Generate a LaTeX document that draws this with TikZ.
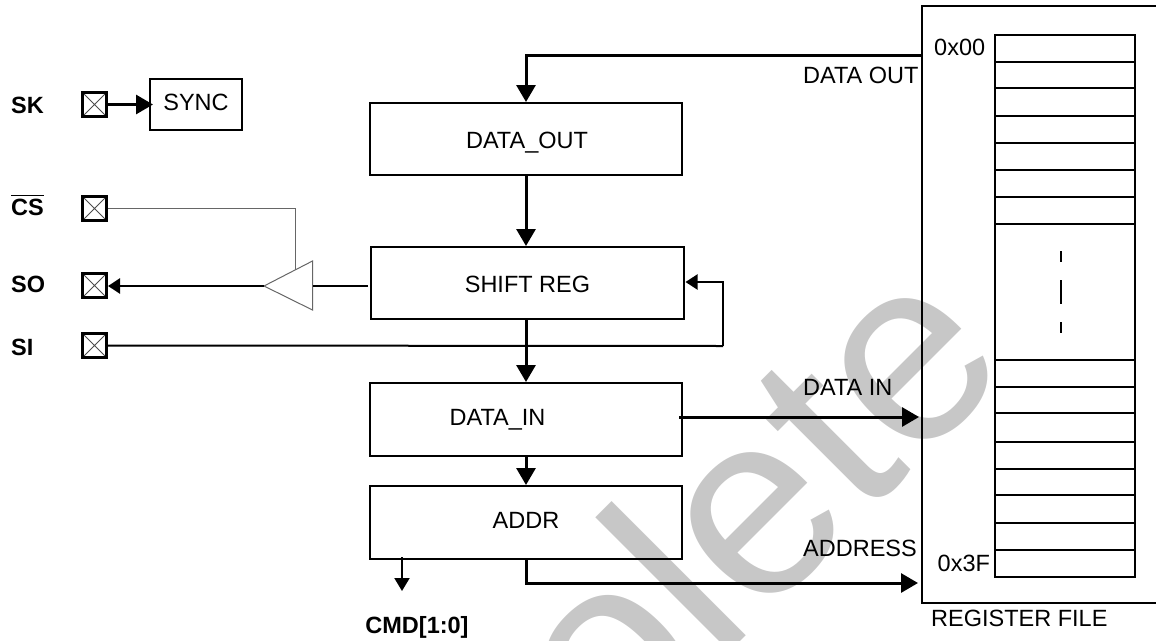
\documentclass[tikz,border=0pt]{standalone}
\usepackage{fontspec}
\setmainfont{Liberation Sans}
\usetikzlibrary{arrows.meta}
\tikzset{
  x=1pt,y=-1pt,
  every node/.style={font=\fontsize{23.5}{25}\selectfont,inner sep=0pt},
  block/.style={draw=black,line width=2pt,minimum width=#1,text height=16.8pt,text depth=0pt},
  block/.default=312pt,
  txt/.style={anchor=base west},
  sig/.style={font=\fontsize{23.5}{25}\bfseries\selectfont,anchor=base west},
  pad/.style={draw=black,line width=3pt,minimum width=24pt,minimum height=24pt,
    path picture={\draw[line width=.8pt,black!70] (path picture bounding box.north west)--(path picture bounding box.south east)
      (path picture bounding box.north east)--(path picture bounding box.south west);}},
  bus/.style={line width=3pt,line cap=butt},
  wire/.style={line width=2pt},
  thin wire/.style={line width=1pt,black!60},
  bigtip/.style={-{Triangle[length=17pt,width=19pt]}},
  midtip/.style={-{Triangle[length=12pt,width=15pt]}},
  regline/.style={line width=2pt},
}
\begin{document}
\begin{tikzpicture}
\useasboundingbox (0,0) rectangle (1156,640);
\clip (0,0) rectangle (1156,640);
% watermark
\node[anchor=base,rotate=45,text=black!22,font=\fontsize{262}{262}\selectfont] (wm) at (645,737) {Obsolete};

% pads
\node[pad] (padsk) at (94.5,104.5) {};
\node[pad] (padcs) at (94.5,208.5) {};
\node[pad] (padso) at (94.5,285.5) {};
\node[pad] (padsi) at (94.5,345.5) {};
\node[sig] (lsk) at (11,113) {SK};
\node[sig] (lcs) at (11,215.7) {\vbox{\hrule height 1.3pt\kern3.4pt\hbox{CS}}};
\node[sig] (lso) at (11,292.7) {SO};
\node[sig] (lsi) at (11,355) {SI};

% blocks
\node[block=92pt,minimum height=51pt] (sync) at (196,104.5) {\raisebox{2pt}{SYNC}};
\node[block,minimum height=72pt] (dout) at (526,139) {\raisebox{-1.5pt}{\hspace*{2pt}DATA\_OUT}};
\node[block=313pt,minimum height=72pt] (shift) at (527.5,283) {\raisebox{-1pt}{SHIFT REG}};
\node[block,minimum height=73pt] (din) at (526,419.5) {\raisebox{2pt}{DATA\_IN\hspace*{57pt}}};
\node[block,minimum height=73pt] (addr) at (526,522.5) {\raisebox{2pt}{ADDR}};

% register file
\node[draw=black,line width=2pt,minimum width=300pt,minimum height=597pt] (regfile) at (1072,304.5) {};
\node[draw=black,line width=2pt,minimum width=140pt,minimum height=542pt] (regs) at (1065,306) {};
\foreach \yy in {62,88,116,143,170,197,224,360,387,413,441.5,468.5,495,523,550}
  \draw[regline] (regs.west |- 0,\yy) -- (regs.east |- 0,\yy);
\draw[regline] (1061,251) -- (1061,262);
\draw[regline] (1061,280) -- (1061,304);
\draw[regline] (1061,322) -- (1061,333);
\node[txt] (a0) at (934,55.7) {0x00};
\node[txt] (a3) at (937.5,571.7) {0x3F};
\node[txt] (lreg) at (931,626.7) {REGISTER FILE};
\node[txt] (ldo) at (803,83.3) {DATA OUT};
\node[txt] (ldi) at (803,395.7) {DATA IN};
\node[txt] (lad) at (803,556) {ADDRESS};
\node[sig,anchor=base] (lcmd) at (417,633) {CMD[1:0]};

% connectors
\coordinate (syncin) at (153,104.5);
\draw[bus,bigtip] (padsk.east) -- (syncin);
\coordinate (outsrc) at (922,55);
\draw[bus,bigtip] (outsrc) -| (dout.north);
\draw[bus,bigtip] (dout.south) -- (shift.north -| dout.south);
\draw[bus,bigtip] (shift.south -| din.north) -- (din.north);
\draw[bus,bigtip] (din.south) -- (addr.north);
\coordinate (dinsrc) at (679,417);
\coordinate (dindst) at (919,417);
\draw[bus,bigtip] (dinsrc) -- (dindst);
\coordinate (addst) at (918,583);
\draw[bus,bigtip] (addr.south) |- (addst);
\coordinate (cmdsrc) at (402,557);
\coordinate (cmddst) at (402,591);
\draw[wire,-{Triangle[length=13pt,width=15pt]}] (cmdsrc) -- (cmddst);

% tristate
\coordinate (triA) at (264,286);
\coordinate (triB) at (312.5,261);
\coordinate (triC) at (312.5,310);
\draw[thin wire] (triA) -- (triB) -- (triC) -- cycle;
\draw[line width=2.5pt,midtip] (triA) -- (padso.east |- triA);
\coordinate (shiftout) at (368,286);
\draw[wire] (shiftout) -- (312.5,286);
\coordinate (trien) at (295,270);
\draw[thin wire] (padcs.east) -| (trien);
\coordinate (fbcorner) at (723,346);
\coordinate (fbdst) at (685.5,282);
\draw[wire] (padsi.east) -- (fbcorner);
\draw[wire,midtip] (fbcorner) |- (fbdst);
\end{tikzpicture}
\end{document}
